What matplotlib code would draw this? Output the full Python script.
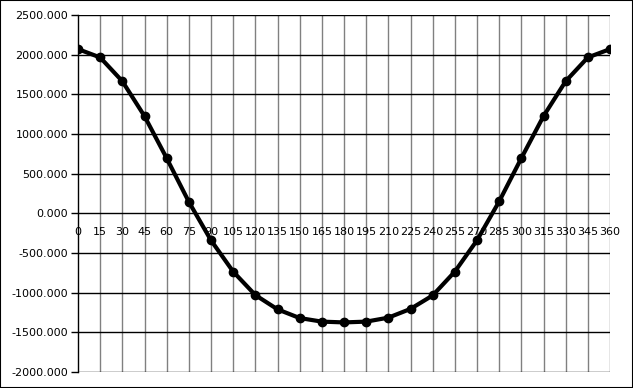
import matplotlib
matplotlib.use("Agg")
import matplotlib.pyplot as plt
from matplotlib.patches import Rectangle
from matplotlib.ticker import FormatStrFormatter

angles = [0, 15, 30, 45, 60, 75, 90, 105, 120, 135, 150, 165, 180,
          195, 210, 225, 240, 255, 270, 285, 300, 315, 330, 345, 360]
values = [2070, 1965, 1665, 1225, 695, 145, -340, -735, -1030, -1210, -1320, -1365, -1375,
          -1365, -1315, -1205, -1035, -735, -340, 150, 695, 1225, 1665, 1965, 2070]
y_ticks = [-2000, -1500, -1000, -500, 0, 500, 1000, 1500, 2000, 2500]

fig = plt.figure(figsize=(6.33, 3.88), dpi=100)
ax = fig.add_axes([78 / 633, 16 / 388, 532 / 633, 357 / 388])

ax.plot(angles, values, color="black", linewidth=3, marker="o", markersize=6, zorder=5)

ax.set_xlim(0, 360)
ax.set_ylim(-2000, 2500)
ax.set_xticks(angles)
ax.set_yticks(y_ticks)
ax.yaxis.set_major_formatter(FormatStrFormatter("%.3f"))

# black horizontal grid, grey vertical grid
for v in y_ticks:
    ax.axhline(v, color="black", linewidth=1, zorder=2)
for a in angles[1:]:
    ax.axvline(a, color="#808080", linewidth=1, zorder=1)

for side in ["top", "right"]:
    ax.spines[side].set_visible(False)
ax.spines["left"].set_color("black")
ax.spines["left"].set_linewidth(1)
# x labels sit under the zero line
ax.spines["bottom"].set_position(("data", 0))
ax.spines["bottom"].set_visible(False)

ax.tick_params(axis="y", length=5, width=1, labelsize=8, colors="black", pad=2)
ax.tick_params(axis="x", length=0, labelsize=8, colors="black", pad=10)

fig.patches.append(Rectangle((0, 0), 1, 1, transform=fig.transFigure,
                             fill=False, edgecolor="black", linewidth=1.5))

fig.savefig("out.png", dpi=100)
